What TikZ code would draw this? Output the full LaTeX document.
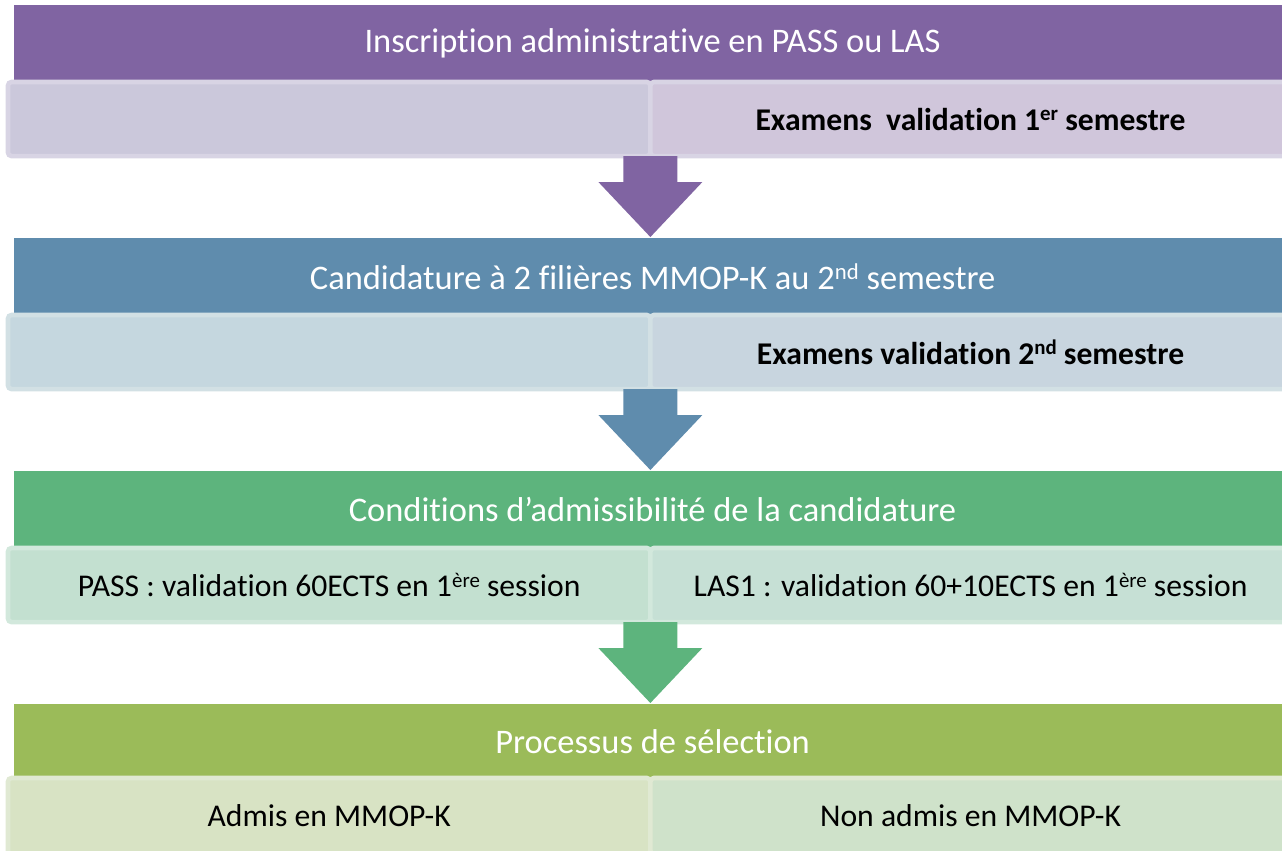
\documentclass[tikz,border=0pt]{standalone}
\usepackage{fontspec}
\setmainfont{Carlito}[RawFeature={-liga;-clig;-dlig;-calt}]
\usetikzlibrary{calc,positioning}

\definecolor{purplehead}{HTML}{8064A2}
\definecolor{purpleleft}{HTML}{CBC8DB}
\definecolor{purpleright}{HTML}{D0C6DB}
\definecolor{purpleline}{HTML}{D8D4E4}
\definecolor{bluehead}{HTML}{5F8CAD}
\definecolor{blueleft}{HTML}{C5D7DF}
\definecolor{blueright}{HTML}{C8D5DF}
\definecolor{blueline}{HTML}{D2E0E4}
\definecolor{greenhead}{HTML}{5DB47D}
\definecolor{greenleft}{HTML}{C3E0D0}
\definecolor{greenright}{HTML}{C6E0D5}
\definecolor{greenline}{HTML}{D2E8DC}
\definecolor{olivehead}{HTML}{9BBB59}
\definecolor{oliveleft}{HTML}{D8E3C4}
\definecolor{oliveright}{HTML}{CFE2CA}
\definecolor{oliveline}{HTML}{E0E9D3}

% small raised text (1er, 2nd, ...)
\newcommand{\expo}[1]{\raisebox{0.3em}{\scalebox{0.66}{#1}}}

% big down arrow from a bar to the next header
\newcommand{\blockarrow}[3]{%
  \fill[#3] ($(#1)+(-27,0)$) -- ($(#1)+(27,0)$) -- ($(#2)+(27,-55)$) -- ($(#2)+(52,-55)$)
    -- (#2) -- ($(#2)+(-52,-55)$) -- ($(#2)+(-27,-55)$) -- cycle;}

\begin{document}
\begin{tikzpicture}[x=0.01cm,y=-0.01cm,
  head/.style={rectangle,inner sep=0pt,anchor=north west,minimum width=12.77cm,
    minimum height=0.78cm,text=white,font=\fontsize{9.8}{12}\selectfont},
  sub/.style={rectangle,rounded corners=1pt,inner sep=0pt,outer sep=0pt,minimum width=6.42cm,
    minimum height=0.74cm,line width=1.3pt,font=\fontsize{9}{11}\selectfont},
  subright/.style={sub,minimum width=6.40cm}]

  \useasboundingbox (0,0) rectangle (1282,850);

  \node[head,fill=purplehead] (h1) at (13,4) {Inscription administrative en PASS ou LAS};
  \node[sub,anchor=north west,fill=purpleleft,draw=purpleline] (s1l) at (8,82) {};
  \node[subright,fill=purpleright,draw=purpleline,right=0pt of s1l]
    (s1r) {\bfseries Examens\ \ validation 1\expo{er} semestre};

  \node[head,fill=bluehead] (h2) at (13,237) {Candidature à 2 filières MMOP-K au 2\expo{nd} semestre};
  \node[sub,anchor=north west,fill=blueleft,draw=blueline] (s2l) at (8,315) {};
  \node[subright,fill=blueright,draw=blueline,right=0pt of s2l]
    (s2r) {\bfseries Examens validation 2\expo{nd} semestre};

  \node[head,fill=greenhead] (h3) at (13,470) {Conditions d’admissibilité de la candidature};
  \node[sub,anchor=north west,fill=greenleft,draw=greenline] (s3l) at (8,548)
    {PASS : validation 60ECTS en 1\expo{ère} session};
  \node[subright,fill=greenright,draw=greenline,right=0pt of s3l]
    (s3r) {LAS1 : validation 60+10ECTS en 1\expo{ère} session};

  \node[head,fill=olivehead,minimum height=0.75cm] (h4) at (13,703) {Processus de sélection};
  \node[sub,anchor=north west,fill=oliveleft,draw=oliveline,minimum height=0.76cm] (s4l) at (8,778)
    {Admis en MMOP-K};
  \node[subright,fill=oliveright,draw=oliveline,minimum height=0.76cm,right=0pt of s4l]
    (s4r) {Non admis en MMOP-K};

  \blockarrow{s1r.south west}{s1r.south west |- h2.north}{purplehead}
  \blockarrow{s2r.south west}{s2r.south west |- h3.north}{bluehead}
  \blockarrow{s3r.south west}{s3r.south west |- h4.north}{greenhead}

\end{tikzpicture}
\end{document}
